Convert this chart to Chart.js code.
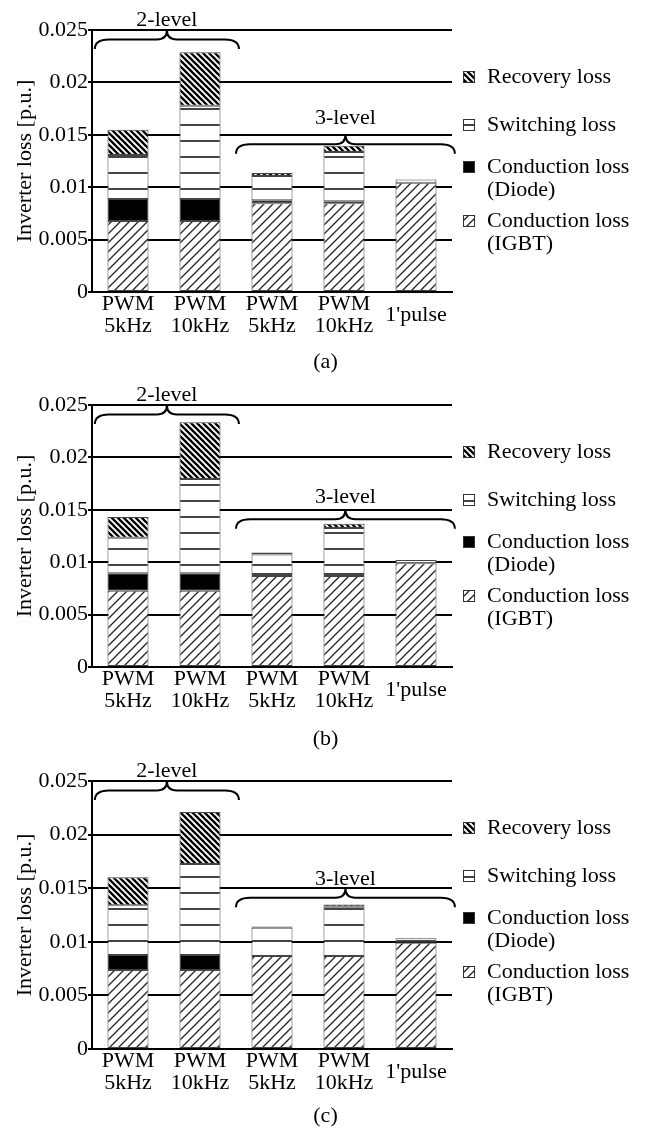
<!DOCTYPE html>
<html>
<head>
<meta charset="utf-8">
<script src="https://cdn.jsdelivr.net/npm/chart.js@4.4.1/dist/chart.umd.min.js"></script>
<style>
  body { margin: 0; background: #fff; }
  .panel { position: absolute; left: 0; width: 651px; height: 376px; }
</style>
</head>
<body>
<div class="panel" style="top:0px"><canvas id="chartA" width="651" height="376"></canvas></div>
<div class="panel" style="top:376px"><canvas id="chartB" width="651" height="376"></canvas></div>
<div class="panel" style="top:752px"><canvas id="chartC" width="651" height="376"></canvas></div>
<script>
// categorias y etiquetas
const categories = [['PWM', '5kHz'], ['PWM', '10kHz'], ['PWM', '5kHz'], ['PWM', '10kHz'], "1'pulse"];
const yTickLabels = ['0', '0.005', '0.01', '0.015', '0.02', '0.025'];
const seriesNames = [['Conduction loss', '(IGBT)'], ['Conduction loss', '(Diode)'], ['Switching loss'], ['Recovery loss']];
const groupLabels = ['2-level', '3-level'];
const captions = ['(a)', '(b)', '(c)'];
const yTitle = 'Inverter loss [p.u.]';

// (a)
const igbtA = [0.00677, 0.00677, 0.00846, 0.00846, 0.01043];
const diodeA = [0.0021, 0.0021, 0.0003, 0.0002, 0];
const switchingA = [0.0042, 0.0089, 0.0023, 0.0047, 0.0003];
const recoveryA = [0.0024, 0.0051, 0.0003, 0.0006, 0];

// (b)
const igbtB = [0.00728, 0.00728, 0.00868, 0.00868, 0.0099];
const diodeB = [0.00166, 0.00166, 0.0002, 0.0002, 0];
const switchingB = [0.0034, 0.009, 0.00185, 0.00439, 0.0003];
const recoveryB = [0.00197, 0.00541, 0.0002, 0.0004, 0];

// (c)
const igbtC = [0.00737, 0.00737, 0.00868, 0.00868, 0.00992];
const diodeC = [0.0014, 0.0014, 0, 0, 0];
const switchingC = [0.00463, 0.00849, 0.00264, 0.0046, 0.0004];
const recoveryC = [0.00262, 0.00485, 0.0001, 0.0002, 0];

const serif = "'Liberation Serif', 'Times New Roman', serif";
Chart.defaults.font.family = serif;
Chart.defaults.color = '#000';

function tile(w, h, draw) {
    const c = document.createElement('canvas');
    c.width = w;
    c.height = h;
    const g = c.getContext('2d');
    g.fillStyle = '#fff';
    g.fillRect(0, 0, w, h);
    draw(g);
    return c;
}

// rayados de cada componente
function makePatterns(ctx) {
    const igbt = tile(9, 9, g => {
        g.strokeStyle = '#222';
        g.lineWidth = 1.3;
        g.beginPath();
        g.moveTo(-1, 10); g.lineTo(10, -1);
        g.moveTo(-1, 1); g.lineTo(1, -1);
        g.moveTo(8, 10); g.lineTo(10, 8);
        g.stroke();
    });
    const recovery = tile(6, 6, g => {
        g.strokeStyle = '#000';
        g.lineWidth = 2.3;
        g.beginPath();
        g.moveTo(-1, -1); g.lineTo(7, 7);
        g.moveTo(-1, 5); g.lineTo(1, 7);
        g.moveTo(5, -1); g.lineTo(7, 1);
        g.stroke();
    });
    const switching = tile(8, 16, g => {
        g.fillStyle = '#444';
        g.fillRect(0, 12, 8, 2);
    });
    return {
        igbt: ctx.createPattern(igbt, 'repeat'),
        diode: '#000',
        switching: ctx.createPattern(switching, 'repeat'),
        recovery: ctx.createPattern(recovery, 'repeat')
    };
}

function drawBrace(ctx, x1, x2, xc, yTop, h) {
    const yMid = yTop + h * 0.5;
    const yEnd = yTop + h;
    ctx.beginPath();
    ctx.moveTo(x1, yEnd);
    ctx.quadraticCurveTo(x1, yMid, x1 + 14, yMid);
    ctx.lineTo(xc - 10, yMid);
    ctx.quadraticCurveTo(xc, yMid, xc, yTop);
    ctx.quadraticCurveTo(xc, yMid, xc + 10, yMid);
    ctx.lineTo(x2 - 14, yMid);
    ctx.quadraticCurveTo(x2, yMid, x2, yEnd);
    ctx.stroke();
}

// llaves, leyenda y pie de figura
const lossExtras = {
    id: 'lossExtras',
    afterDraw(chart, args, opts) {
        const ctx = chart.ctx;
        const area = chart.chartArea;
        const xs = chart.scales.x;
        const ys = chart.scales.y;
        ctx.save();
        ctx.strokeStyle = '#000';
        ctx.lineWidth = 2;
        ctx.fillStyle = '#000';
        ctx.font = '22px ' + serif;
        ctx.textAlign = 'center';
        ctx.textBaseline = 'alphabetic';
        opts.braces.forEach((b, i) => {
            const x1 = xs.getPixelForValue(b.from);
            const x2 = xs.getPixelForValue(b.to);
            const xc = (x1 + x2) / 2;
            const yTop = ys.getPixelForValue(b.at);
            drawBrace(ctx, x1, x2, xc, yTop, 19);
            ctx.fillText(groupLabels[i], xc, yTop - b.textGap);
        });

        // leyenda
        ctx.textAlign = 'left';
        ctx.textBaseline = 'middle';
        const order = [3, 2, 1, 0];
        order.forEach((d, k) => {
            const ds = chart.data.datasets[d];
            const y = area.top + opts.legendOffsets[k];
            const bx = area.right + 11;
            ctx.fillStyle = ds.backgroundColor;
            ctx.fillRect(bx, y - 6, 12, 12);
            ctx.strokeStyle = '#333';
            ctx.lineWidth = 1;
            ctx.strokeRect(bx + 0.5, y - 5.5, 11, 11);
            ctx.fillStyle = '#000';
            seriesNames[d].forEach((t, j) => {
                ctx.fillText(t, area.right + 35, y + j * 23);
            });
        });

        ctx.textAlign = 'center';
        ctx.fillText(opts.caption, chart.width / 2, opts.captionY);
        ctx.restore();
    }
};

function drawPanel(id, values, caption, top, bottom, captionY, gap3) {
    const canvas = document.getElementById(id);
    const ctx = canvas.getContext('2d');
    const p = makePatterns(ctx);
    const fills = [p.igbt, p.diode, p.switching, p.recovery];
    const datasets = values.map((v, i) => ({
        label: seriesNames[i].join(' '),
        data: v,
        backgroundColor: fills[i],
        borderColor: '#444',
        borderWidth: 1,
        borderSkipped: false,
        barPercentage: 0.57,
        categoryPercentage: 1.0
    }));
    const font = { family: serif, size: 22, lineHeight: 1 };

    new Chart(ctx, {
        type: 'bar',
        data: { labels: categories, datasets: datasets },
        options: {
            responsive: false,
            animation: false,
            layout: { padding: { left: 0, right: 199, top: top, bottom: 376 - bottom - 50 } },
            plugins: {
                legend: { display: false },
                tooltip: { enabled: false },
                lossExtras: {
                    caption: caption,
                    captionY: captionY,
                    legendOffsets: [47, 95, 137, 191],
                    braces: [
                        { from: -0.46, to: 1.54, at: 0.025, textGap: 4 },
                        { from: 1.5, to: 4.54, at: 0.015, textGap: gap3 }
                    ]
                }
            },
            scales: {
                x: {
                    stacked: true,
                    grid: { display: false, drawTicks: false },
                    border: { display: true, color: '#000', width: 2 },
                    ticks: { color: '#000', font: font, padding: 12, crossAlign: 'center', maxRotation: 0, autoSkip: false },
                    afterFit: s => { s.height = 50; }
                },
                y: {
                    stacked: true,
                    min: 0,
                    max: 0.025,
                    ticks: {
                        stepSize: 0.005,
                        color: '#000',
                        font: font,
                        padding: 0,
                        callback: (v, i) => yTickLabels[i]
                    },
                    grid: { color: '#000', lineWidth: 2, tickLength: 4 },
                    border: { color: '#000', width: 2 },
                    title: {
                        display: true,
                        text: yTitle,
                        color: '#000',
                        font: { family: serif, size: 22, lineHeight: 1.2 },
                        padding: { top: 12, bottom: 0 }
                    },
                    afterFit: s => { s.width = 92; }
                }
            }
        },
        plugins: [lossExtras]
    });
}

drawPanel('chartA', [igbtA, diodeA, switchingA, recoveryA], captions[0], 30, 292, 362, 11);
drawPanel('chartB', [igbtB, diodeB, switchingB, recoveryB], captions[1], 29, 291, 363, 7);
drawPanel('chartC', [igbtC, diodeC, switchingC, recoveryC], captions[2], 29, 297, 364, 3);
</script>
</body>
</html>
